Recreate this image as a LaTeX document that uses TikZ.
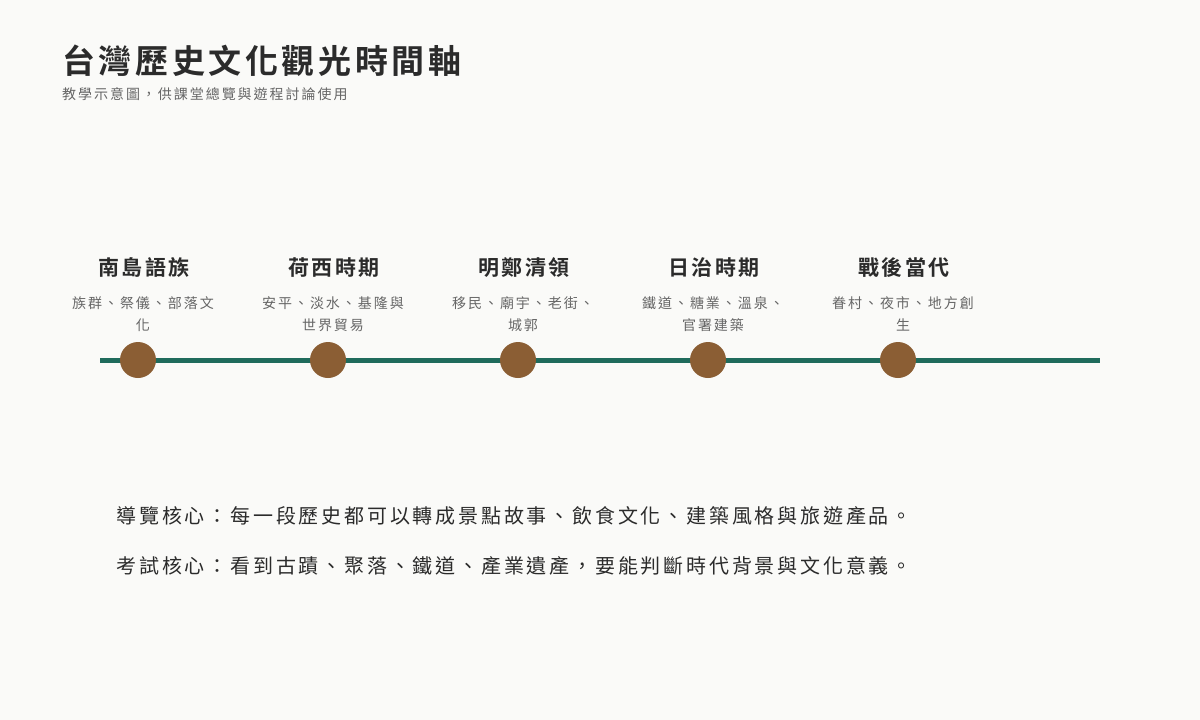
\documentclass[tikz,border=0pt]{standalone}
\usepackage{fontspec}
\setmainfont{Noto Sans CJK TC}[BoldFont={Noto Sans CJK TC Bold}]
\definecolor{bg}{HTML}{FAFAF8}
\definecolor{teal}{HTML}{1F6B5C}
\definecolor{brown}{HTML}{8B5E34}
\definecolor{ink}{HTML}{2B2B2B}
\definecolor{sub}{HTML}{666666}
\newcommand{\ls}[1]{\addfontfeature{LetterSpace=#1}}
\begin{document}
\begin{tikzpicture}[x=1pt,y=-1pt,
  era/.style={font=\bfseries\fontsize{21}{25}\selectfont\ls{12},text=ink,anchor=base},
  desc/.style={font=\fontsize{14}{22}\selectfont\ls{14},text=sub,align=center,anchor=base},
  dot/.style={circle,fill=brown,minimum size=36pt,inner sep=0},
  body/.style={font=\fontsize{20}{24}\selectfont\ls{14},text=ink,anchor=base west}]
\fill[bg] (0,0) rectangle (1200,720);
\useasboundingbox (0,0) rectangle (1200,720);
\node[anchor=base west,font=\bfseries\fontsize{33}{38}\selectfont\ls{11},text=ink,inner sep=0] (title) at (62,73) {台灣歷史文化觀光時間軸};
\node[anchor=base west,font=\fontsize{14}{16}\selectfont\ls{14},text=sub,inner sep=0] (subt) at (62,99) {教學示意圖，供課堂總覽與遊程討論使用};
\coordinate (ls) at (100,360); \coordinate (le) at (1100,360);
\draw[teal,line width=5pt] (ls) -- (le);
\foreach \i/\x/\t/\d in {1/138/南島語族/{族群、祭儀、部落文\\化},2/328/荷西時期/{安平、淡水、基隆與\\世界貿易},3/518/明鄭清領/{移民、廟宇、老街、\\城郭},4/708/日治時期/{鐵道、糖業、溫泉、\\官署建築},5/898/戰後當代/{眷村、夜市、地方創\\生}}{
  \node[era] (e\i) at (\x+6,275) {\t};
  \node[desc] (d\i) at (\x+5,330) {\d};
  \node[dot] (c\i) at (\x,360) {};
}
\node[body] (b1) at (113,523) {導覽核心：每一段歷史都可以轉成景點故事、飲食文化、建築風格與旅遊產品。};
\node[body] (b2) at (113,573) {考試核心：看到古蹟、聚落、鐵道、產業遺產，要能判斷時代背景與文化意義。};
\end{tikzpicture}
\end{document}
